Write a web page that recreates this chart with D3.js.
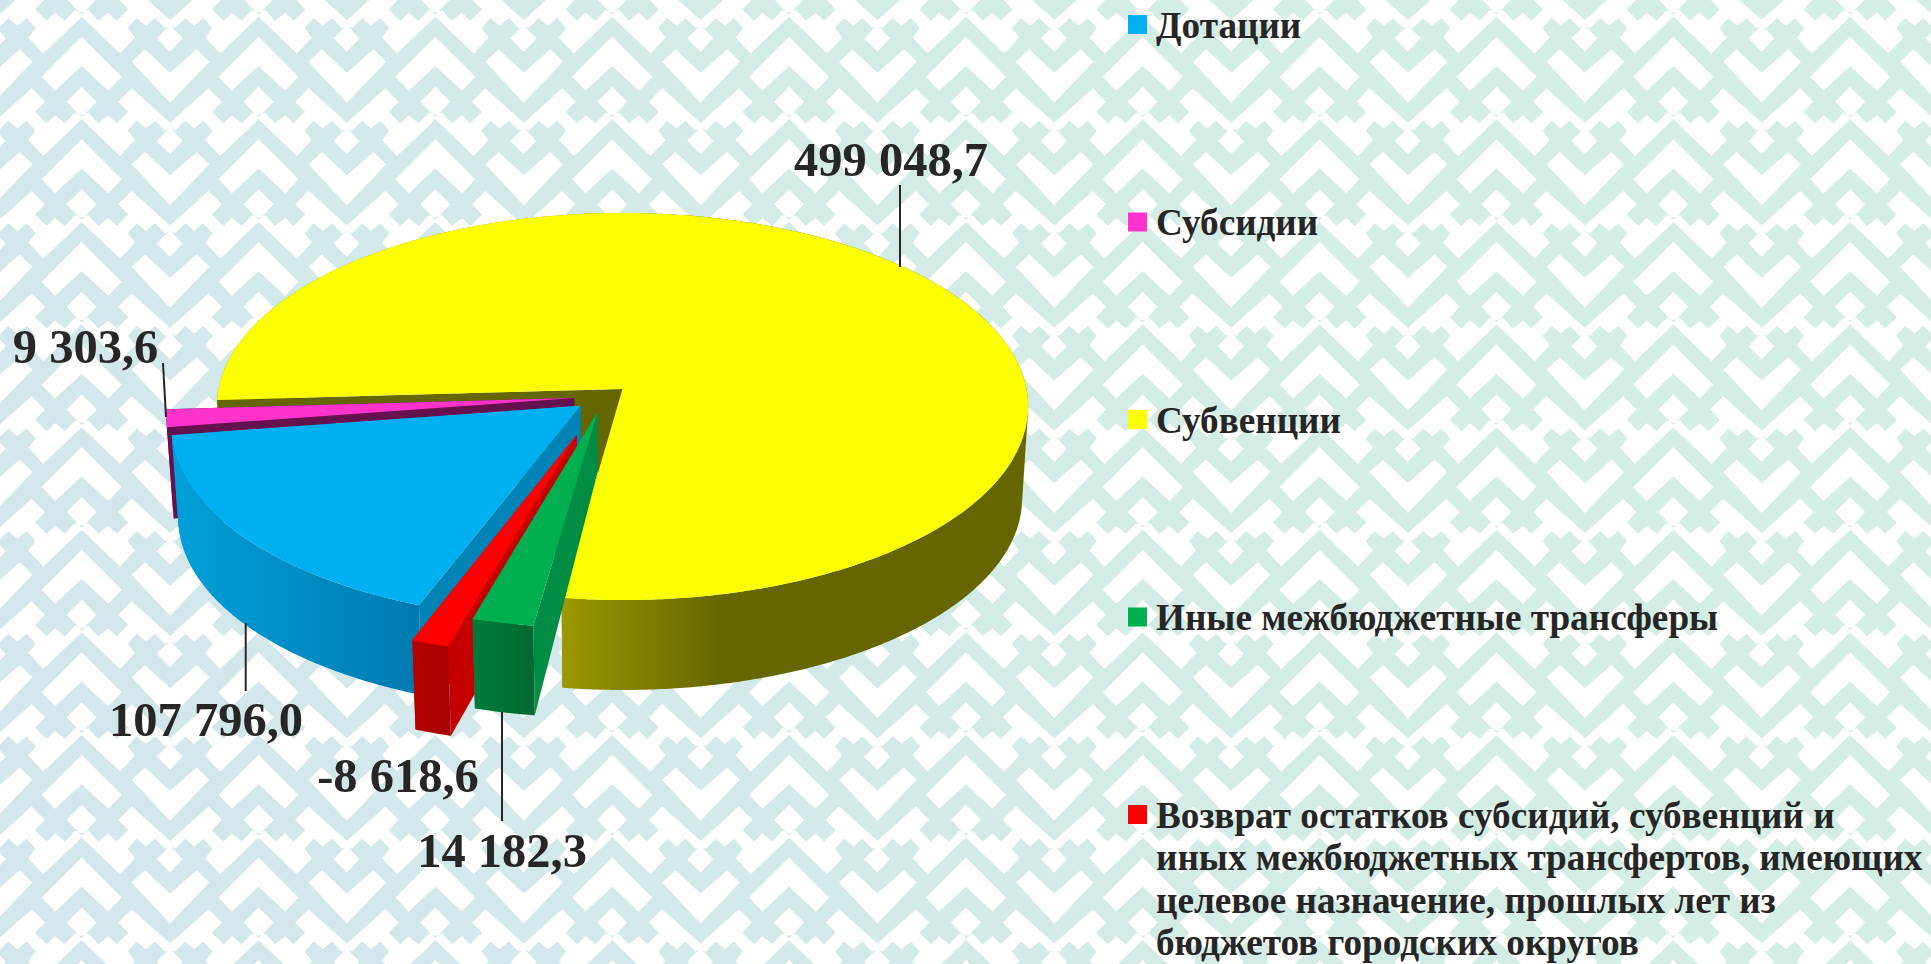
<!DOCTYPE html>
<html lang="ru">
<head>
<meta charset="utf-8">
<title>Безвозмездные поступления</title>
<script src="https://cdn.jsdelivr.net/npm/d3@7"></script>
<style>
html,body{margin:0;padding:0;background:#fff;overflow:hidden}
svg{display:block}
text{font-family:"Liberation Serif","Times New Roman",serif;font-weight:700;fill:#262626}
</style>
</head>
<body>
<div id="chart"></div>
<script>
// ---------- data ----------
const categories = ["Дотации","Субсидии","Субвенции","Иные межбюджетные трансферы",
  "Возврат остатков субсидий, субвенций и иных межбюджетных трансфертов, имеющих целевое назначение, прошлых лет из бюджетов городских округов"];
const values = [107796.0, 9303.6, 499048.7, 14182.3, -8618.6];
const topColors = ["#00b0f0","#ff33cc","#fbff00","#00b050","#ff0000"];
const innerWallColors = ["#0083b6","#66114f","#666600","#008c42","#c40000"];
const outerWallStart = ["#00a0da","#6b0f6b","#9c9800","#007c3a","#b60000"];
const outerWallEnd = ["#007ab0","#6b0f6b","#666600","#006a30","#a80000"];
const legendLines = [
  ["Дотации"],["Субсидии"],["Субвенции"],["Иные межбюджетные трансферы"],
  ["Возврат остатков субсидий, субвенций и","иных межбюджетных трансфертов, имеющих","целевое назначение, прошлых лет из","бюджетов городских округов"]
];

// ---------- layout ----------
const W = 1931, H = 964;
const cx = 622.5, cy = 389, rx = 404, ry = 192, persp = 0.0905;
const firstSliceDeg = 200.74;
const explodeU = [-0.103,-0.119,0,-0.061,-0.111];
const explodeV = [-0.087,-0.047,0,-0.1185,-0.234];
const apexDrop = [70,60,82,60,80];
const drawOrder = [2,1,0,4,3];
const bottomDrop = 92, bottomScaleX = 0.985, bottomScaleY = 0.99;
const gradSpan = [[171,418],[160,180],[563,720],[471,532],[412,447]];
const labelAnchorX = [206,85.5,891,502,398];
const labelBaseline = [736,363,176,867,792];
const leaders = [[245.7,623,245.7,691],[163,363,166,417],[900,185,900,267],[502,712,502,821],null];
const legendX = 1128, legendFirstY = 15, legendStep = 197.5, legendBox = 19, legendTextX = 1156,
      legendFont = 37.2, legendLeading = 42.5, labelFont = 48.5;

const svg = d3.select("#chart").append("svg").attr("width",W).attr("height",H).attr("viewBox",[0,0,W,H]);
const defs = svg.append("defs");

// ---------- background ornament ----------
const bg = defs.append("linearGradient").attr("id","bgGrad").attr("gradientUnits","userSpaceOnUse")
  .attr("x1",0).attr("y1",H).attr("x2",W).attr("y2",0);
bg.append("stop").attr("offset",0).attr("stop-color","#d3e6ec");
bg.append("stop").attr("offset",0.35).attr("stop-color","#d3e9e9");
bg.append("stop").attr("offset",0.7).attr("stop-color","#d4ede5");
bg.append("stop").attr("offset",1).attr("stop-color","#d4eee5");
svg.append("rect").attr("width",W).attr("height",H).attr("fill","url(#bgGrad)");

const leftPiece = [[245,358],[130,468],[85,420],[107,392],[80,362],[52,385],[25,362],[-5,392],[-20,368],[95,265],[135,305],[105,336],[140,370],[165,346],[195,370],[225,338]];
const tileShapes = [
  [[245,110],[365,230],[325,272],[245,198],[165,272],[125,230]],
  [[395,185],[435,148],[510,218],[590,148],[628,185],[510,308]],
  [[510,75],[548,115],[510,155],[470,115]],
  [[245,260],[290,305],[245,352],[200,305]],
  leftPiece,
  leftPiece.map(([x,y])=>[490-x,y]),
  [[225,338],[245,358],[265,338],[245,345]],
  [[495,392],[510,368],[525,392],[510,385]]
];
const tileW = 176.85, tileH = 102.6;
let ornament = "";
for (let j=-2;j<=10;j++) for (let i=-1;i<=11;i++) for (const shape of tileShapes) {
  ornament += "M"+shape.map(([x,y])=>[(x/3+i*tileW).toFixed(2),(y/3+j*tileH).toFixed(2)].join(",")).join("L")+"Z";
}
svg.append("path").attr("d",ornament).attr("fill","#fff");

// ---------- pie geometry ----------
const pie = d3.pie().sort(null).value(d=>Math.abs(d))
  .startAngle(firstSliceDeg*Math.PI/180).endAngle((firstSliceDeg+360)*Math.PI/180);
const arcs = pie(values);
const project = (u,v)=>{const s=1/(1+persp*v);return [cx+rx*u*s, cy-ry*v*s];};
const toBottom = ([x,y])=>[cx+(x-cx)*bottomScaleX, cy+bottomDrop+(y-cy)*bottomScaleY];
const line = d3.line();
const polygon = pts=>line(pts)+"Z";
// every quad wound the same way, so overlapping quads of the rim never cancel
const wound = pts=>polygon(d3.polygonArea(pts)<0 ? pts.slice().reverse() : pts);

const g = svg.append("g");
drawOrder.forEach(i=>{
  const a = arcs[i];
  const pt = ang=>project(Math.sin(ang)+explodeU[i],Math.cos(ang)+explodeV[i]);
  const n = Math.ceil((a.endAngle-a.startAngle)*180/Math.PI*2)+1;
  const rim = d3.range(n+1).map(k=>pt(a.startAngle+(a.endAngle-a.startAngle)*k/n));
  const apex = project(explodeU[i],explodeV[i]);
  const apexB = [apex[0],apex[1]+apexDrop[i]];
  const gr = defs.append("linearGradient").attr("id","wall"+i).attr("gradientUnits","userSpaceOnUse")
    .attr("x1",gradSpan[i][0]).attr("x2",gradSpan[i][1]).attr("y1",0).attr("y2",0);
  gr.append("stop").attr("offset",0).attr("stop-color",outerWallStart[i]);
  gr.append("stop").attr("offset",1).attr("stop-color",outerWallEnd[i]);
  const s = g.append("g").attr("class","slice");
  s.append("path").attr("d",polygon([apex,rim[n],toBottom(rim[n]),apexB])).attr("fill",innerWallColors[i]);
  s.append("path").attr("d",d3.range(n).map(k=>wound([rim[k],rim[k+1],toBottom(rim[k+1]),toBottom(rim[k])])).join(""))
    .attr("fill",`url(#wall${i})`).attr("fill-rule","nonzero");
  s.append("path").attr("d",polygon([apex,rim[0],toBottom(rim[0]),apexB])).attr("fill",innerWallColors[i]);
  s.append("path").attr("d",polygon([apex].concat(rim))).attr("fill",topColors[i]);
});

// ---------- leader lines and value labels ----------
const fmt = d3.formatLocale({decimal:",",thousands:" ",grouping:[3],currency:["",""],minus:"-"}).format(",.1f");
leaders.forEach(l=>{ if(l) svg.append("line").attr("x1",l[0]).attr("y1",l[1]).attr("x2",l[2]).attr("y2",l[3])
  .attr("stroke","#262626").attr("stroke-width",2); });
svg.append("g").selectAll("text").data(values).join("text")
  .attr("class","value")
  .attr("x",(d,i)=>labelAnchorX[i]).attr("y",(d,i)=>labelBaseline[i])
  .attr("text-anchor","middle").attr("font-size",labelFont)
  .text(d=>fmt(d));

// ---------- legend ----------
const lg = svg.append("g").selectAll("g").data(categories).join("g")
  .attr("transform",(d,i)=>`translate(0,${legendFirstY+i*legendStep})`);
lg.append("rect").attr("x",legendX).attr("y",0).attr("width",legendBox).attr("height",legendBox)
  .attr("fill",(d,i)=>topColors[i]);
lg.each(function(d,i){
  d3.select(this).selectAll("text").data(legendLines[i]).join("text")
    .attr("x",legendTextX).attr("y",(t,k)=>22.5+k*legendLeading)
    .attr("font-size",legendFont).text(t=>t);
});
</script>
</body>
</html>
